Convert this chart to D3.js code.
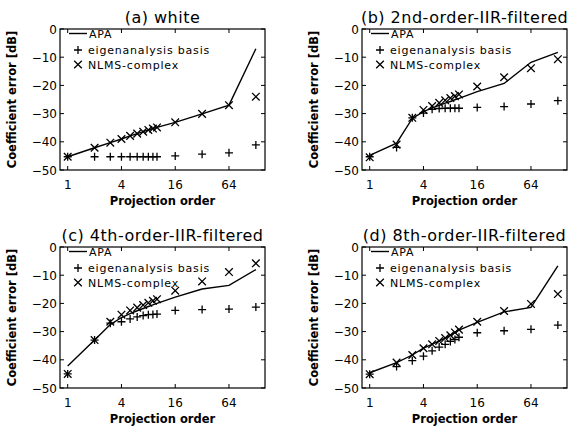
<!DOCTYPE html>
<meta charset="utf-8">
<style>
body { margin: 0; background: #fff; }
text { font-family: "DejaVu Sans", sans-serif; fill: #000; }
.title { font-size: 16px; letter-spacing: 0.5px; }
.tick { font-size: 12px; }
.label { font-size: 11.5px; font-weight: bold; }
.legend { font-size: 11px; letter-spacing: 0.8px; }
</style>
<svg width="577" height="427"></svg>
<script src="https://d3js.org/d3.v7.min.js"></script>
<script>

// projection orders used in every panel
var orders = [1, 2, 3, 4, 5, 6, 7, 8, 9, 10, 16, 32, 64, 128];

// (a) white
var apaA  = [-45.3, -42.1, -40.3, -39, -37.9, -37.1, -36.4, -35.8, -35.3, -34.9, -33.1, -30.1, -27, -7];
var eigA  = [-45.3, -45.3, -45.3, -45.3, -45.3, -45.3, -45.3, -45.3, -45.3, -45.3, -45, -44.4, -43.9, -41.1];
var nlmsA = [-45.3, -42.1, -40.3, -39, -37.9, -37.1, -36.4, -35.8, -35.3, -34.9, -33.1, -30.1, -27, -24];

// (b) 2nd-order
var apaB  = [-44.8, -40.5, -31.7, -29.3, -28, -27.1, -26.3, -25.7, -25.1, -24.6, -22.2, -19.3, -11.8, -8.3];
var eigB  = [-45.3, -42, -31.5, -29.8, -28.5, -28.2, -28.1, -28.1, -28.1, -28.1, -27.8, -27.5, -26.6, -25.4];
var nlmsB = [-45.5, -41, -31.5, -28.7, -27.3, -26.2, -25.3, -24.5, -23.8, -23.2, -20.4, -17.1, -13.9, -10.7];

// (c) 4th-order
var apaC  = [-42.2, -33, -27.5, -25, -23.6, -22.6, -21.8, -21.1, -20.5, -20, -17.8, -14.9, -13.6, -8];
var eigC  = [-45, -33, -27, -26.5, -25.5, -24.8, -24.3, -24, -23.9, -23.8, -22.5, -22.2, -22, -21.3];
var nlmsC = [-45, -33, -26.5, -24, -22.5, -21.5, -20.6, -19.8, -19.1, -18.5, -15.5, -12.2, -8.9, -5.8];

// (d) 8th-order
var apaD  = [-44.6, -41, -38.3, -35.9, -34.5, -33.3, -32.3, -31.3, -30.3, -29.5, -26.7, -23, -21.4, -6.7];
var eigD  = [-45.1, -42.4, -40.3, -38.7, -36.8, -35.5, -34.5, -33.5, -32.8, -32, -30.4, -29.7, -29.2, -27.7];
var nlmsD = [-45.1, -41, -38.3, -35.9, -34.5, -33.3, -32.3, -31.3, -30.3, -29.3, -26.5, -22.7, -20.2, -16.7];

var titles = ["(a) white", "(b) 2nd-order-IIR-filtered", "(c) 4th-order-IIR-filtered", "(d) 8th-order-IIR-filtered"];
var xTicks = [1, 4, 16, 64];
var yTicks = [0, -10, -20, -30, -40, -50];
var legendNames = ["APA", "eigenanalysis basis", "NLMS-complex"];

var svg = d3.select("svg");
var pw = 205, ph = 141;
var origins = [[60, 29], [362, 29], [60, 247], [362, 247]];
var sets = [[apaA, eigA, nlmsA], [apaB, eigB, nlmsB], [apaC, eigC, nlmsC], [apaD, eigD, nlmsD]];

var plusPath = "M-4,0H4M0,-4V4";
var crossPath = "M-3.8,-3.8L3.8,3.8M-3.8,3.8L3.8,-3.8";

sets.forEach(function(s, i) {
  var g = svg.append("g")
      .attr("transform", "translate(" + origins[i][0] + "," + origins[i][1] + ")");

  var x = d3.scaleLog().base(2).domain([0.82, 162]).range([0, pw]);
  var y = d3.scaleLinear().domain([-50, 0]).range([ph, 0]);

  // box
  g.append("rect")
      .attr("width", pw).attr("height", ph)
      .attr("fill", "none").attr("stroke", "#000").attr("stroke-width", 1.2);

  // inward ticks on all sides
  xTicks.forEach(function(t) {
    g.append("line").attr("x1", x(t)).attr("x2", x(t)).attr("y1", ph).attr("y2", ph - 4)
        .attr("stroke", "#000");
    g.append("line").attr("x1", x(t)).attr("x2", x(t)).attr("y1", 0).attr("y2", 4)
        .attr("stroke", "#000");
    g.append("text").attr("class", "tick")
        .attr("x", x(t)).attr("y", ph + 19)
        .attr("text-anchor", "middle")
        .text(t);
  });
  yTicks.forEach(function(t) {
    g.append("line").attr("x1", 0).attr("x2", 4).attr("y1", y(t)).attr("y2", y(t))
        .attr("stroke", "#000");
    g.append("line").attr("x1", pw).attr("x2", pw - 4).attr("y1", y(t)).attr("y2", y(t))
        .attr("stroke", "#000");
    g.append("text").attr("class", "tick")
        .attr("x", -3).attr("y", y(t) + 4.5)
        .attr("text-anchor", "end")
        .text(t === 0 ? "0" : "\u2212" + Math.abs(t));
  });

  // APA line
  var line = d3.line()
      .x(function(d, k) { return x(orders[k]); })
      .y(function(d) { return y(d); });
  g.append("path").datum(s[0])
      .attr("d", line)
      .attr("fill", "none").attr("stroke", "#000").attr("stroke-width", 1.4);

  // eigenanalysis markers
  g.selectAll(".plus").data(s[1]).enter().append("path")
      .attr("class", "plus")
      .attr("transform", function(d, k) { return "translate(" + x(orders[k]) + "," + y(d) + ")"; })
      .attr("d", plusPath)
      .attr("stroke", "#000").attr("stroke-width", 1.3).attr("fill", "none");

  // NLMS markers
  g.selectAll(".cross").data(s[2]).enter().append("path")
      .attr("class", "cross")
      .attr("transform", function(d, k) { return "translate(" + x(orders[k]) + "," + y(d) + ")"; })
      .attr("d", crossPath)
      .attr("stroke", "#000").attr("stroke-width", 1.3).attr("fill", "none");

  // legend
  g.append("line").attr("x1", 9).attr("x2", 27).attr("y1", 4.5).attr("y2", 4.5)
      .attr("stroke", "#000").attr("stroke-width", 1.4);
  g.append("path").attr("transform", "translate(18,21)").attr("d", plusPath)
      .attr("stroke", "#000").attr("stroke-width", 1.3);
  g.append("path").attr("transform", "translate(18,35.5)").attr("d", crossPath)
      .attr("stroke", "#000").attr("stroke-width", 1.3);
  [8.6, 25, 39.5].forEach(function(yy, k) {
    g.append("text").attr("class", "legend")
        .attr("x", k === 0 ? 29 : 28).attr("y", yy)
        .text(legendNames[k]);
  });

  // title
  g.append("text").attr("class", "title")
      .attr("x", pw / 2).attr("y", -6)
      .attr("text-anchor", "middle")
      .text(titles[i]);

  // axis labels
  g.append("text").attr("class", "label")
      .attr("x", pw / 2).attr("y", ph + 35)
      .attr("text-anchor", "middle")
      .text("Projection order");
  g.append("text").attr("class", "label")
      .attr("transform", "translate(-44," + (ph / 2) + ") rotate(-90)")
      .attr("text-anchor", "middle")
      .text("Coefficient error [dB]");
});

</script>
